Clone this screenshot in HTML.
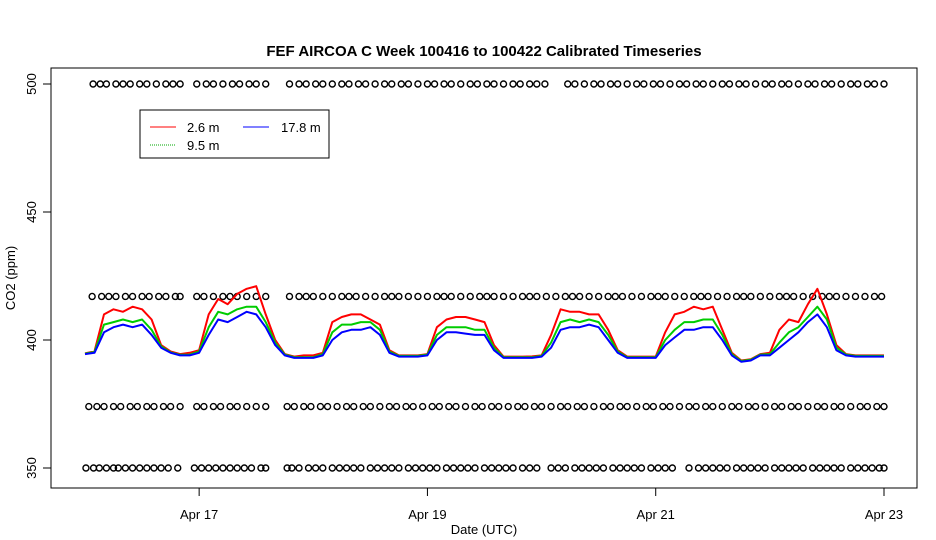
<!DOCTYPE html>
<html><head><meta charset="utf-8"><style>
html,body{margin:0;padding:0;background:#fff;}
svg{display:block;font-family:"Liberation Sans",Arial,sans-serif;}
</style></head><body>
<svg id="chart" width="936" height="540" viewBox="0 0 936 540">
<rect x="0" y="0" width="936" height="540" fill="#fff"/>
<text x="484" y="56" text-anchor="middle" font-size="15" font-weight="bold">FEF AIRCOA C  Week 100416 to 100422  Calibrated Timeseries</text>
<g id="circles"></g>
<g id="series"></g>
<rect x="51" y="68" width="866" height="420" fill="none" stroke="#000" stroke-width="1"/>
<g id="axes"></g>
<text x="484" y="534" text-anchor="middle" font-size="13">Date (UTC)</text>
<text transform="translate(15,278) rotate(-90)" text-anchor="middle" font-size="13">CO2 (ppm)</text>
<g>
<rect x="140" y="110" width="189" height="48" fill="#fff" stroke="#000"/>
<line x1="150" y1="127" x2="176" y2="127" stroke="#f00"/>
<text x="187" y="132" font-size="13">2.6 m</text>
<line x1="150" y1="145" x2="176" y2="145" stroke="#0a0" stroke-dasharray="1,1"/>
<text x="187" y="150" font-size="13">9.5 m</text>
<line x1="243" y1="127" x2="269" y2="127" stroke="#00f"/>
<text x="281" y="132" font-size="13">17.8 m</text>
</g>
</svg>
<script>
const yTicks=[350,400,450,500];
const xTickHours=[24,72,120,168];
const xTickLabels=["Apr 17","Apr 19","Apr 21","Apr 23"];
const seriesHours=2;
const blue=[394.5,395,403,405,406,405,406,402,397,395,394,394,395,402,408,407,409,411,410,405,398,394,393,393,393,394,400,403,404,404,405,402,395,393.5,393.5,393.5,394,400,403,403,402.5,402,402,396,393,393,393,393,393.5,397,404,405,405,406,405,400,395,393,393,393,393,398,401,404,404,405,405,400,394,391.5,392,394,394,397,400,403,407,410,405,396,394,393.5,393.5,393.5,393.5];
const green=[394.7,395.3,406,407,408,407,408,404,397.5,395.2,394.2,394.3,395.5,405,411,410,412,413,413,407,399,394.3,393.3,393.3,393.3,394.5,403,406,406,407,407,404,395.5,393.8,393.8,393.8,394.3,402,405,405,405,404,404,397,393.3,393.3,393.3,393.3,393.8,399,407,408,407,408,407,402,395.5,393.3,393.3,393.3,393.3,400,404,407,407,408,408,402,394.5,391.8,392.3,394.3,394.5,399,403,405,409,413,408,397,394.3,393.8,393.8,393.8,393.8];
const red=[394.8,395.6,410,412,411,413,412,408,398,395.5,394.5,395,396,410,416,414,418,420,421,410,400,394.5,393.5,394,394,395,407,409,410,410,408,406,396,394,394,394,394.5,405,408,409,409,408,407,398,393.5,393.5,393.5,393.6,394,402,412,411,411,410,410,404,396,393.5,393.5,393.5,393.5,403,410,411,413,412,413,404,395,392,392.5,394.5,395,404,408,407,414,420,410,398,394.5,394,394,394,394];
const circleLevels=[500,417,374,350];
const circles500=[1.7,3.2,4.5,6.5,8,9.5,11.5,13,15,17,18.5,20,23.5,25.5,27,29,31,32.5,34.5,36,38,43,45,46.5,48.5,50,52,54,55.5,57.5,59,61,63,64.5,66.5,68,70,72,73.5,75.5,77,79,81,82.5,84.5,86,88,90,91.5,93.5,95,96.7,101.5,103,105,107,108.5,110.5,112,114,116,117.5,119.5,121,123,125,126.5,128.5,130,132,134,135.5,137.5,139,141,143,144.5,146.5,148,150,152,153.5,155.5,157,159,161,162.5,164.5,166,168];
const circles417=[1.5,3.5,5,6.5,8.5,10,12,13.5,15.5,17,19,20,23.5,25,27,29,30.5,32,34,36,38,43,45,46.5,48,50,52,54,55.5,57,59,61,63,64.5,66,68,70,72,74,75.5,77,79,81,83,84.5,86,88,90,92,93.5,95,97,99,101,102.5,104,106,108,110,111.5,113,115,117,119,120.5,122,124,126,128,129.5,131,133,135,137,138.5,140,142,144,146,147.5,149,151,153,155,156.5,158,160,162,164,166,167.5];
const circles374=[0.8,2.5,4,6,7.5,9.5,11,13,14.5,16.5,18,20,23.5,25,27,28.5,30.5,32,34,36,38,42.5,44,46,47.5,49.5,51,53,55,56.5,58.5,60,62,64,65.5,67.5,69,71,73,74.5,76.5,78,80,82,83.5,85.5,87,89,91,92.5,94.5,96,98,100,101.5,103.5,105,107,109,110.5,112.5,114,116,118,119.5,121.5,123,125,127,128.5,130.5,132,134,136,137.5,139.5,141,143,145,146.5,148.5,150,152,154,155.5,157.5,159,161,163,164.5,166.5,168];
const circles350=[0.2,1.8,3,4.5,6,7,8.5,10,11.5,13,14.5,16,17.5,19.5,23,24.5,26,27.5,29,30.5,32,33.5,35,37,38,42.5,43.5,45,47,48.5,50,52,53.5,55,56.5,58,60,61.5,63,64.5,66,68,69.5,71,72.5,74,76,77.5,79,80.5,82,84,85.5,87,88.5,90,92,93.5,95,98,99.5,101,103,104.5,106,107.5,109,111,112.5,114,115.5,117,119,120.5,122,123.5,127,129,130.5,132,133.5,135,137,138.5,140,141.5,143,145,146.5,148,149.5,151,153,154.5,156,157.5,159,161,162.5,164,165.5,167,168];
const circleRows=[circles500,circles417,circles374,circles350];

const NS="http://www.w3.org/2000/svg";
const X=h=>85+h*(884-85)/168;
const Y=v=>340-(v-400)*2.56;
function mk(tag,attrs,parent){const e=document.createElementNS(NS,tag);for(const k in attrs)e.setAttribute(k,attrs[k]);parent.appendChild(e);return e;}
const axes=document.getElementById('axes');
yTicks.forEach(v=>{
  const t=mk('line',{x1:43,x2:51,y1:Y(v),y2:Y(v),stroke:'#000'},axes);
  
  
  const l=mk('text',{transform:`translate(36,${Y(v)}) rotate(-90)`,'text-anchor':'middle','font-size':13},axes);
  l.textContent=v;
  
  
});
xTickHours.forEach((h,i)=>{
  const t=mk('line',{x1:X(h),x2:X(h),y1:488,y2:496,stroke:'#000'},axes);
  
  
  const l=mk('text',{x:X(h),y:519,'text-anchor':'middle','font-size':13},axes);
  l.textContent=xTickLabels[i];
  
  
});
const cg=document.getElementById('circles');
circleRows.forEach((row,r)=>{
  row.forEach(h=>{
    const c=mk('circle',{cx:X(h),cy:Y(circleLevels[r]),r:3,fill:'none',stroke:'#000','stroke-width':1.4},cg);
    
    
  });
});
const sg=document.getElementById('series');
[[red,'#f00','series-2-6m'],[green,'#0c0','series-9-5m'],[blue,'#00f','series-17-8m']].forEach(([arr,col,name])=>{
  const pts=arr.map((v,i)=>X(i*seriesHours).toFixed(1)+','+Y(v).toFixed(1)).join(' ');
  const p=mk('polyline',{points:pts,fill:'none',stroke:col,'stroke-width':2,'stroke-linejoin':'round'},sg);
  
  
});
</script>
</body></html>
